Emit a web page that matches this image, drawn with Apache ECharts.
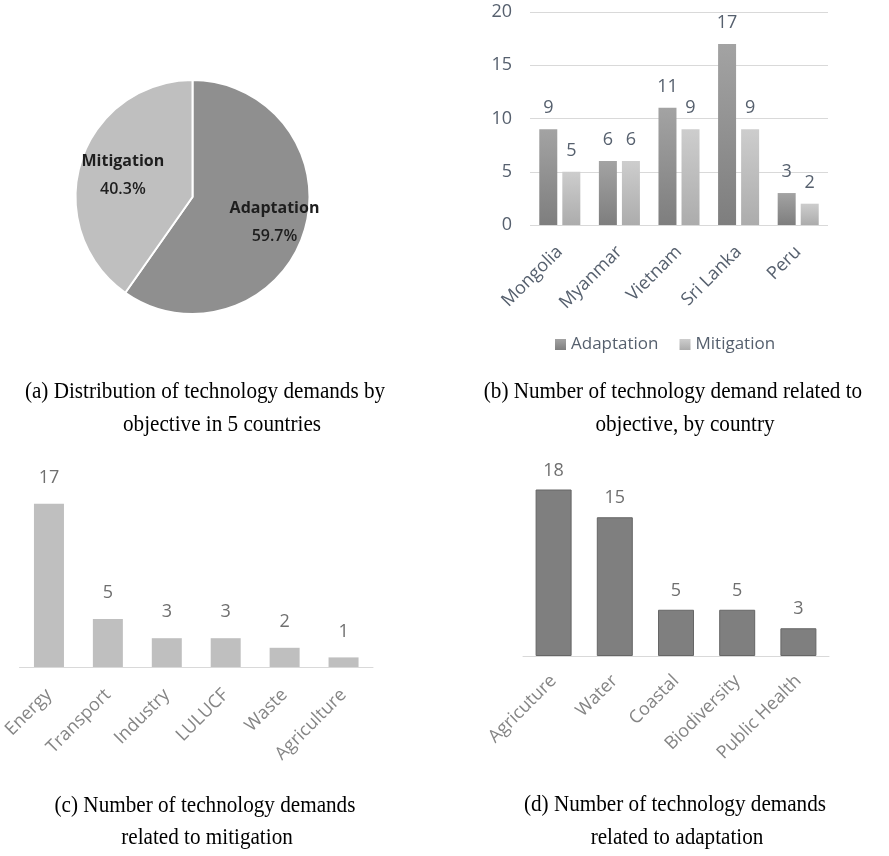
<!DOCTYPE html>
<html><head><meta charset="utf-8">
<script src="https://cdn.jsdelivr.net/npm/echarts@6/dist/echarts.min.js"></script>
<style>html,body{margin:0;padding:0;background:#fff}#c{width:889px;height:856px}</style>
</head><body><div id="c"></div>
<script>
// ---- data ----
const objectives = ['Adaptation', 'Mitigation'];
const objectiveTotals = [46, 31];
const countries = ['Mongolia', 'Myanmar', 'Vietnam', 'Sri Lanka', 'Peru'];
const adaptationByCountry = [9, 6, 11, 17, 3];
const mitigationByCountry = [5, 6, 9, 9, 2];
const yTicksB = [0, 5, 10, 15, 20];
const mitigationSectors = ['Energy', 'Transport', 'Industry', 'LULUCF', 'Waste', 'Agriculture'];
const mitigationCounts = [17, 5, 3, 3, 2, 1];
const adaptationSectors = ['Agricuture', 'Water', 'Coastal', 'Biodiversity', 'Public Health'];
const adaptationCounts = [18, 15, 5, 5, 3];
const captions = [
  ['(a) Distribution of technology demands by', 'objective in 5 countries'],
  ['(b) Number of technology demand related to', 'objective, by country'],
  ['(c) Number of technology demands', 'related to mitigation'],
  ['(d) Number of technology demands', 'related to adaptation']
];

const chart = echarts.init(document.getElementById('c'), null, {renderer: 'canvas'});
const UI = '"Open Sans", "Noto Sans", sans-serif';
const blueGray = '#56606e';
const gray = '#858585';
const pieColors = ['#8f8f8f', '#bfbfbf'];

function grad(top, bottom) {
  return new echarts.graphic.LinearGradient(0, 0, 0, 1, [{offset: 0, color: top}, {offset: 1, color: bottom}]);
}

const capPos = [
  [[205, 392], [222, 425]],
  [[673, 392], [685, 425]],
  [[205, 806], [207, 838]],
  [[675, 805], [677, 838]]
];
const graphics = [];
captions.forEach((c, i) => {
  c.forEach((line, j) => {
    graphics.push({
      type: 'text', x: capPos[i][j][0], y: capPos[i][j][1], scaleX: 0.92,
      style: {text: line, font: '23px "Liberation Serif", "Times New Roman", serif', fill: '#000', align: 'center', verticalAlign: 'middle'}
    });
  });
});

const pieLabel = {
  show: true, position: 'inside',
  formatter: p => '{n|' + p.name + '}\n{p|' + p.percent.toFixed(1) + '%}',
  rich: {
    n: {fontSize: 16, fontWeight: 'bold', color: '#1e1e1e', lineHeight: 28, fontFamily: UI},
    p: {fontSize: 16, fontWeight: 600, color: '#1e1e1e', lineHeight: 28, fontFamily: UI}
  }
};
// invisible pie used only to place the label of one slice
function labelPie(outer, showIdx) {
  return {type: 'pie', center: [192.5, 197], radius: [0, outer], startAngle: 90, clockwise: true,
    data: objectives.map((n, i) => ({name: n, value: objectiveTotals[i], label: {show: i === showIdx}})),
    itemStyle: {color: 'rgba(0,0,0,0)'}, silent: true, label: pieLabel, labelLine: {show: false}};
}

const option = {
  animation: false,
  textStyle: {fontFamily: UI},
  graphic: graphics,
  legend: {
    data: objectives, left: 550, top: 331, itemWidth: 11, itemHeight: 11, itemGap: 21,
    icon: 'rect',
    textStyle: {fontSize: 17, color: blueGray, fontFamily: UI}
  },
  grid: [
    {left: 530, right: 61, top: 12, bottom: 631},
    {left: 19, right: 516, top: 475, bottom: 189},
    {left: 523, right: 60, top: 471, bottom: 200}
  ],
  xAxis: [
    {gridIndex: 0, type: 'category', data: countries,
      axisLine: {show: false}, axisTick: {show: false},
      axisLabel: {rotate: 45, margin: 24, fontSize: 18, color: blueGray, fontFamily: UI}},
    {gridIndex: 1, type: 'category', data: mitigationSectors,
      axisLine: {lineStyle: {color: '#d9d9d9', width: 1}}, axisTick: {show: false},
      axisLabel: {rotate: 45, margin: 25, fontSize: 18, color: gray, fontFamily: UI}},
    {gridIndex: 2, type: 'category', data: adaptationSectors,
      axisLine: {lineStyle: {color: '#d9d9d9', width: 1}}, axisTick: {show: false},
      axisLabel: {rotate: 45, margin: 22, fontSize: 18, color: gray, fontFamily: UI}}
  ],
  yAxis: [
    {gridIndex: 0, type: 'value', min: yTicksB[0], max: yTicksB[yTicksB.length - 1], interval: yTicksB[1] - yTicksB[0],
      axisLine: {show: false}, axisTick: {show: false},
      splitLine: {lineStyle: {color: '#d9d9d9'}},
      axisLabel: {margin: 18, fontSize: 18, color: blueGray, fontFamily: UI}},
    {gridIndex: 1, type: 'value', min: 0, max: 20, show: false},
    {gridIndex: 2, type: 'value', min: 0, max: 20, show: false}
  ],
  series: [
    {type: 'pie', center: [192.5, 197], radius: [0, 117], startAngle: 90, clockwise: true,
      data: objectives.map((n, i) => ({name: n, value: objectiveTotals[i], itemStyle: {color: pieColors[i]}})),
      itemStyle: {borderColor: '#fff', borderWidth: 2},
      label: {show: false}, labelLine: {show: false}, silent: true},
    labelPie(166, 0),
    labelPie(140, 1),
    {type: 'bar', name: 'Adaptation', xAxisIndex: 0, yAxisIndex: 0, data: adaptationByCountry,
      barWidth: 18, barGap: '28%',
      itemStyle: {color: grad('#a3a3a3', '#7e7e7e')},
      label: {show: true, position: 'top', distance: 12, fontSize: 18, color: blueGray, fontFamily: UI}},
    {type: 'bar', name: 'Mitigation', xAxisIndex: 0, yAxisIndex: 0, data: mitigationByCountry,
      barWidth: 18, barGap: '28%',
      itemStyle: {color: grad('#cdcdcd', '#acacac')},
      label: {show: true, position: 'top', distance: 12, fontSize: 18, color: blueGray, fontFamily: UI}},
    {type: 'bar', xAxisIndex: 1, yAxisIndex: 1, data: mitigationCounts, barWidth: 30,
      itemStyle: {color: '#bfbfbf'},
      label: {show: true, position: 'top', distance: 17, fontSize: 18, color: '#6f6f6f', fontFamily: UI}},
    {type: 'bar', xAxisIndex: 2, yAxisIndex: 2, data: adaptationCounts, barWidth: 36,
      itemStyle: {color: '#7f7f7f', borderColor: '#666', borderWidth: 1},
      label: {show: true, position: 'top', distance: 10, fontSize: 18, color: '#6f6f6f', fontFamily: UI}}
  ]
};
chart.setOption(option);
</script></body></html>
